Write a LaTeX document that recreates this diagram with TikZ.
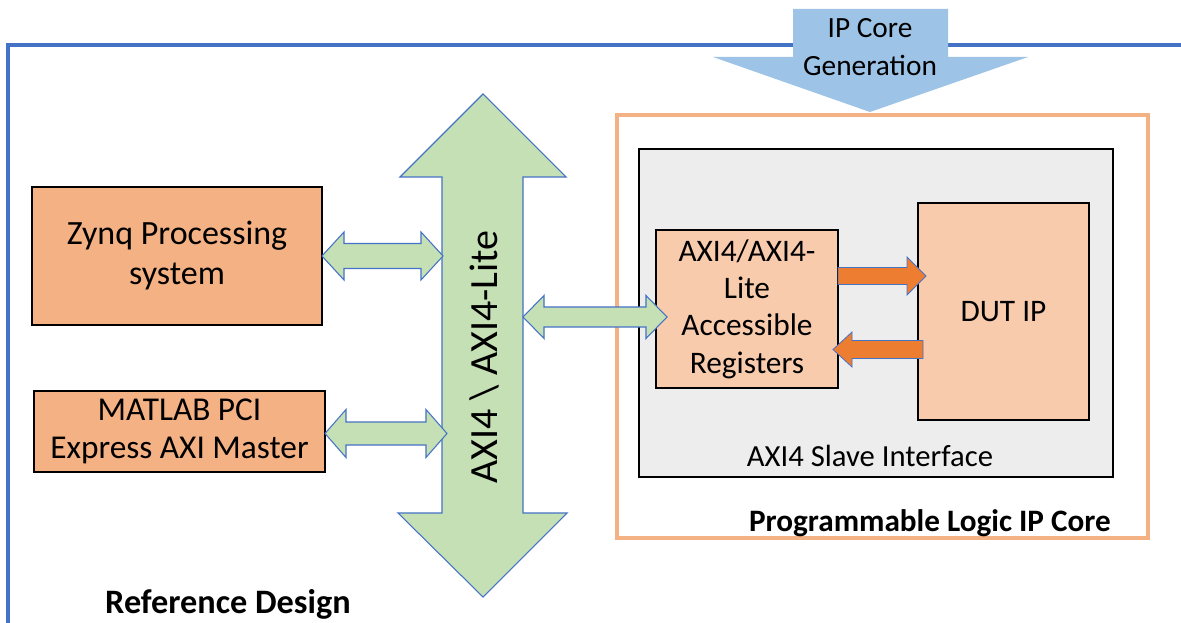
\documentclass[tikz,border=0pt]{standalone}
\usepackage{fontspec}
\setmainfont{Carlito}
\usetikzlibrary{calc}
\definecolor{frameblue}{HTML}{4472C4}
\definecolor{frameorange}{HTML}{F4B183}
\definecolor{grayfill}{HTML}{EDEDED}
\definecolor{darkpeach}{HTML}{F4B183}
\definecolor{lightpeach}{HTML}{F8CBAD}
\definecolor{busgreen}{HTML}{C5E0B4}
\definecolor{arroworange}{HTML}{ED7D31}
\definecolor{genblue}{HTML}{9DC3E6}
\tikzset{
  blockbox/.style={draw=black, line width=1.6pt, inner sep=0pt, align=center},
  greenarrow/.style={fill=busgreen, draw=frameblue, line width=0.8pt, line join=miter},
  orangearrow/.style={fill=arroworange, draw=frameblue, line width=0.6pt, line join=miter},
  txt/.style={inner sep=0pt, align=center}
}
% horizontal double block arrow: x1 x2 y shafthalf headhalf headlen
\newcommand\hdblarrow[6]{%
  \filldraw[greenarrow] (#1,#3) -- (#1+#6,#3-#5) -- (#1+#6,#3-#4) -- (#2-#6,#3-#4)
    -- (#2-#6,#3-#5) -- (#2,#3) -- (#2-#6,#3+#5) -- (#2-#6,#3+#4)
    -- (#1+#6,#3+#4) -- (#1+#6,#3+#5) -- cycle;}
% horizontal single block arrow: xstart xtip y shafthalf headhalf headlen direction
\newcommand\hsglarrow[7]{%
  \filldraw[orangearrow] (#1,#3-#4) -- (#2-#7*#6,#3-#4) -- (#2-#7*#6,#3-#5) -- (#2,#3)
    -- (#2-#7*#6,#3+#5) -- (#2-#7*#6,#3+#4) -- (#1,#3+#4) -- cycle;}
\begin{document}
\begin{tikzpicture}[x=0.75pt,y=-0.75pt]
\useasboundingbox (0,0) rectangle (1181,623);
\begin{scope}
\clip (0,0) rectangle (1181,623);
% outer blue frame (open to the right and bottom)
\draw[frameblue, line width=2.4pt] (8,45) rectangle (1200,660);
\end{scope}

% IP Core Generation arrow
\fill[genblue] (793,9) -- (948,9) -- (948,57) -- (1028,57) -- (870,112) -- (713,57) -- (793,57) -- cycle;
\node[txt, font=\fontsize{22}{28}\selectfont] (gen) at (870,47) {IP Core\\Generation};

% orange IP core frame
\node[draw=frameorange, line width=2.6pt, minimum width=531*0.75pt, minimum height=423*0.75pt, inner sep=0pt] (ipcore) at (882.5,326.5) {};
% gray slave interface box
\node[blockbox, fill=grayfill, minimum width=474*0.75pt, minimum height=328*0.75pt] (slave) at (876,313) {};
% registers
\node[blockbox, fill=lightpeach, minimum width=182*0.75pt, minimum height=158*0.75pt, font=\fontsize{23.5}{28}\selectfont] (regs) at (747,309) {AXI4/AXI4-\\Lite\\Accessible\\Registers};
% DUT
\node[blockbox, fill=lightpeach, minimum width=171*0.75pt, minimum height=217*0.75pt, font=\fontsize{23.5}{28}\selectfont] (dut) at (1003.5,311.5) {DUT IP};

% Zynq
\node[blockbox, fill=darkpeach, minimum width=290*0.75pt, minimum height=138*0.75pt, font=\fontsize{25.5}{30}\selectfont] (zynq) at (177,256) {Zynq Processing\\system};
% MATLAB
\node[blockbox, fill=darkpeach, minimum width=291*0.75pt, minimum height=81*0.75pt, font=\fontsize{25}{28.5}\selectfont] (matlab) at (179.5,431.5) {MATLAB PCI\\Express AXI Master};

% bus double arrow
\filldraw[greenarrow] (483,94) -- (566,177) -- (523,177) -- (523,513) -- (567,513) -- (483,597)
  -- (398,513) -- (442,513) -- (442,177) -- (400,177) -- cycle;
\node[txt, rotate=90, font=\fontsize{30}{36}\selectfont] (bus) at (484,357) {AXI4 \textbackslash{} AXI4-Lite};

% green connectors
\hdblarrow{322}{443}{256}{12.5}{24}{22}
\hdblarrow{325}{447}{433.5}{11.5}{24}{21}
\hdblarrow{523}{667}{317}{10}{21.5}{21}

% orange arrows between registers and DUT
\hsglarrow{838}{926}{276}{8.5}{19}{19}{1}
\hsglarrow{923}{833}{349.5}{9}{17.5}{19}{-1}

% labels
\node[txt, font=\fontsize{23}{28}\selectfont] (slavelbl) at (870,456) {AXI4 Slave Interface};
\node[txt, font=\bfseries\fontsize{23.4}{28}\selectfont] (iplbl) at (930,523) {Programmable Logic IP Core};
\node[txt, font=\bfseries\fontsize{25.7}{30}\selectfont] (reflbl) at (228,604) {Reference Design};
\end{tikzpicture}
\end{document}
